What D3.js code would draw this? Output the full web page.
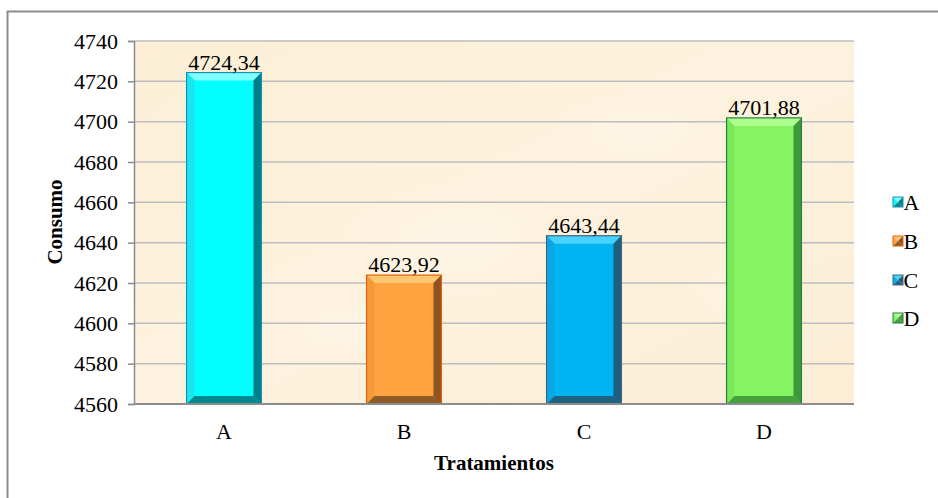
<!DOCTYPE html>
<html>
<head>
<meta charset="utf-8">
<script src="https://cdn.jsdelivr.net/npm/d3@7"></script>
<style>
  html, body { margin: 0; padding: 0; background: #ffffff; }
  svg { display: block; }
  svg text { font-family: "Liberation Serif", "Times New Roman", serif !important; fill: #000; }
</style>
</head>
<body>
<svg id="chart" width="938" height="498"></svg>
<script>
// Consumo por tratamiento
const categories = ["A", "B", "C", "D"];
const values = [4724.34, 4623.92, 4643.44, 4701.88];
const yTicks = [4560, 4580, 4600, 4620, 4640, 4660, 4680, 4700, 4720, 4740];

// face, top bevel, left bevel, right bevel, bottom bevel, outline
const palettes = [
  { face: "#00FFFF", top: "#7FFFFF", left: "#19E6EE", right: "#007F86", bottom: "#008A90", stroke: "#1A8FB8" },
  { face: "#FFA23F", top: "#FFC870", left: "#F49A38", right: "#8E531F", bottom: "#8E5A26", stroke: "#E0620E" },
  { face: "#00B4F2", top: "#47D2FF", left: "#08A8E4", right: "#1C5F7E", bottom: "#1E6482", stroke: "#44647E" },
  { face: "#86F562", top: "#AFFF8E", left: "#7BE85A", right: "#3E9A3A", bottom: "#46A03E", stroke: "#238040" }
];

const SERIF = '"Liberation Serif", "Times New Roman", serif';
const svg = d3.select("#chart");
const W = 938, H = 498;
const FS = 22;

const plot = { left: 134, right: 854, top: 41, bottom: 404 };

const x = d3.scaleBand().domain(categories).range([plot.left, plot.right]).paddingInner(0.584).paddingOuter(0.292);
const y = d3.scaleLinear().domain([4560, 4740]).range([plot.bottom, plot.top]);

// outer frame
svg.append("rect")
  .attr("x", 7.5).attr("y", 11.5)
  .attr("width", W + 10).attr("height", H + 10)
  .attr("fill", "#fff").attr("stroke", "#8c8c8c").attr("stroke-width", 2);

// parchment-like plot background
const defs = svg.append("defs");
const bg = defs.append("linearGradient").attr("id", "bg").attr("x1", "0").attr("y1", "0").attr("x2", "1").attr("y2", "1");
bg.append("stop").attr("offset", "0%").attr("stop-color", "#FCEFD6");
bg.append("stop").attr("offset", "50%").attr("stop-color", "#FDF2DE");
bg.append("stop").attr("offset", "100%").attr("stop-color", "#FCEED5");

const blot = defs.append("radialGradient").attr("id", "blot");
blot.append("stop").attr("offset", "0%").attr("stop-color", "#FFF7EA").attr("stop-opacity", 0.6);
blot.append("stop").attr("offset", "100%").attr("stop-color", "#FFF7EA").attr("stop-opacity", 0);

svg.append("rect")
  .attr("x", plot.left).attr("y", plot.top)
  .attr("width", plot.right - plot.left).attr("height", plot.bottom - plot.top)
  .attr("fill", "url(#bg)");

// soft lighter patches across the paper
const patches = [[0.12, 0.2, 60, 30], [0.45, 0.55, 120, 60], [0.7, 0.25, 90, 40], [0.3, 0.8, 80, 35], [0.85, 0.7, 70, 40]];
svg.append("g").selectAll("ellipse").data(patches).join("ellipse")
  .attr("cx", d => plot.left + d[0] * (plot.right - plot.left))
  .attr("cy", d => plot.top + d[1] * (plot.bottom - plot.top))
  .attr("rx", d => d[2]).attr("ry", d => d[3])
  .attr("fill", "url(#blot)");

// gridlines
svg.append("g").selectAll("line").data(yTicks.slice(1)).join("line")
  .attr("x1", plot.left).attr("x2", plot.right)
  .attr("y1", d => y(d)).attr("y2", d => y(d))
  .attr("stroke", "#BDBCC0").attr("stroke-width", 1.5);

// y axis
const yAxis = d3.axisLeft(y).tickValues(yTicks).tickSize(6).tickPadding(10).tickFormat(d3.format("d"));
const gy = svg.append("g").attr("transform", `translate(${plot.left},0)`).call(yAxis)
  .attr("font-family", null).attr("font-size", null);
gy.select(".domain").attr("stroke", "#8c8c8c").attr("stroke-width", 1.5);
gy.selectAll(".tick line").attr("stroke", "#8c8c8c").attr("stroke-width", 1.5);
gy.selectAll(".tick text").style("font-family", SERIF).style("font-size", FS + "px").attr("fill", "#000");

// bars with bevelled faces
const bev = 8;
const bars = svg.append("g").selectAll("g").data(categories.map((c, i) => ({ c, v: values[i], p: palettes[i] }))).join("g");

bars.each(function (d) {
  const g = d3.select(this);
  const x0 = x(d.c), x1 = x0 + x.bandwidth();
  const y0 = y(d.v), y1 = y(4560);
  const p = d.p;
  const poly = pts => pts.map(q => q.join(",")).join(" ");
  g.append("rect").attr("x", x0).attr("y", y0).attr("width", x1 - x0).attr("height", y1 - y0).attr("fill", p.face);
  g.append("polygon").attr("points", poly([[x0, y0], [x1, y0], [x1 - bev, y0 + bev], [x0 + bev, y0 + bev]])).attr("fill", p.top);
  g.append("polygon").attr("points", poly([[x0, y0], [x0 + bev, y0 + bev], [x0 + bev, y1 - bev], [x0, y1]])).attr("fill", p.left);
  g.append("polygon").attr("points", poly([[x1, y0], [x1, y1], [x1 - bev, y1 - bev], [x1 - bev, y0 + bev]])).attr("fill", p.right);
  g.append("polygon").attr("points", poly([[x0, y1], [x0 + bev, y1 - bev], [x1 - bev, y1 - bev], [x1, y1]])).attr("fill", p.bottom);
  g.append("rect").attr("x", x0).attr("y", y0).attr("width", x1 - x0).attr("height", y1 - y0)
    .attr("fill", "none").attr("stroke", p.stroke).attr("stroke-width", 1.2);
});

// bottom axis line
svg.append("line")
  .attr("x1", plot.left).attr("x2", plot.right)
  .attr("y1", plot.bottom).attr("y2", plot.bottom)
  .attr("stroke", "#8c8c8c").attr("stroke-width", 2);

// value labels
const fmt = v => d3.format(".2f")(v).replace(".", ",");
svg.append("g").selectAll("text").data(categories).join("text")
  .attr("x", c => x(c) + x.bandwidth() / 2)
  .attr("y", (c, i) => y(values[i]) - 3)
  .attr("text-anchor", "middle")
  .attr("font-size", FS)
  .text((c, i) => fmt(values[i]));

// category labels
svg.append("g").selectAll("text").data(categories).join("text")
  .attr("x", c => x(c) + x.bandwidth() / 2)
  .attr("y", 439)
  .attr("text-anchor", "middle")
  .attr("font-size", FS)
  .text(c => c);

// axis titles
svg.append("text")
  .attr("x", 494).attr("y", 470)
  .attr("text-anchor", "middle").attr("font-size", 21).attr("font-weight", "bold")
  .text("Tratamientos");

svg.append("text")
  .attr("transform", "translate(62,222) rotate(-90)")
  .attr("text-anchor", "middle").attr("font-size", 21).attr("font-weight", "bold")
  .text("Consumo");

// legend
const legY = [202, 241, 280, 318];
const leg = svg.append("g").selectAll("g").data(categories).join("g")
  .attr("transform", (c, i) => `translate(893,${legY[i]})`);
leg.each(function (c, i) {
  const g = d3.select(this);
  const p = palettes[i];
  const s = 10, h = s / 2;
  const poly = pts => pts.map(q => q.join(",")).join(" ");
  g.append("polygon").attr("points", poly([[0, -h], [s, -h], [h, 0]])).attr("fill", p.top);
  g.append("polygon").attr("points", poly([[0, -h], [h, 0], [0, h]])).attr("fill", p.face);
  g.append("polygon").attr("points", poly([[s, -h], [s, h], [h, 0]])).attr("fill", p.right);
  g.append("polygon").attr("points", poly([[0, h], [h, 0], [s, h]])).attr("fill", p.bottom);
  g.append("rect").attr("x", 0).attr("y", -h).attr("width", s).attr("height", s)
    .attr("fill", "none").attr("stroke", p.stroke).attr("stroke-width", 1);
  g.append("text").attr("x", s + 0.5).attr("y", 7.5).attr("font-size", FS).text(c);
});
</script>
</body>
</html>
